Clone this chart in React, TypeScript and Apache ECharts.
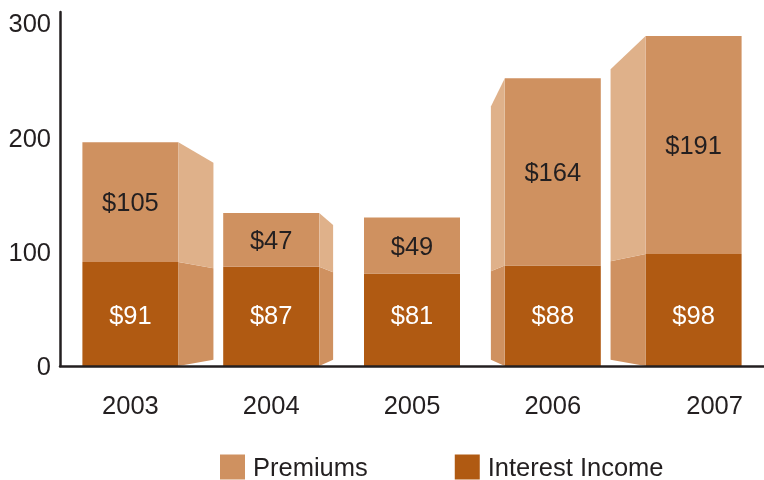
import React, { useEffect, useRef } from "react";
import * as echarts from "echarts";

const years = ["2003", "2004", "2005", "2006", "2007"];
const interestIncome = [91, 87, 81, 88, 98];
const premiums = [105, 47, 49, 164, 191];

const FONT = "'Liberation Sans', Arial, Helvetica, sans-serif";
const FS = 25.5;
const INK = "#231f20";
const C_INTEREST = "#b05a12";
const C_PREMIUM = "#cf9160";
const C_PREMIUM_SIDE = "#dfb18a";

export default function App() {
  const ref = useRef<HTMLDivElement>(null);
  useEffect(() => {
    const chart = echarts.init(ref.current!, null, { renderer: "svg" });
    const faceData = years.map((_, i) => [i, interestIncome[i], premiums[i]]);
    const option: any = {
      animation: false,
      grid: { left: 60, right: 0, top: 12, bottom: 114 },
      legend: {
        data: [
          { name: "Premiums", icon: "rect" },
          { name: "Interest Income", icon: "rect" },
        ],
        left: 220,
        top: 454,
        padding: 0,
        itemWidth: 25,
        itemHeight: 25,
        itemGap: 87,
        textStyle: {
          fontSize: FS,
          color: INK,
          fontFamily: FONT,
          lineHeight: 20,
          padding: [0, 0, 0, 3],
        },
      },
      xAxis: {
        type: "category",
        data: years,
        z: 10,
        axisLine: { show: true, lineStyle: { color: INK, width: 2.5 } },
        axisTick: { show: false },
        axisLabel: {
          interval: 0,
          hideOverlap: false,
          fontSize: FS,
          color: INK,
          fontFamily: FONT,
          margin: 26,
          formatter: (v: string, i: number) =>
            i === years.length - 1 ? `{shift|${v}}` : v,
          rich: {
            shift: {
              fontSize: FS,
              color: INK,
              fontFamily: FONT,
              padding: [0, 0, 0, 42],
            },
          },
        },
      },
      yAxis: {
        type: "value",
        min: 0,
        max: 310,
        interval: 100,
        z: 10,
        axisLine: { show: true, lineStyle: { color: INK, width: 2.5 } },
        axisTick: { show: false },
        splitLine: { show: false },
        axisLabel: {
          fontSize: FS,
          color: INK,
          fontFamily: FONT,
          margin: 9,
          formatter: (v: number) => (v % 100 === 0 ? String(v) : ""),
        },
      },
      series: [
        {
          name: "Interest Income",
          type: "bar",
          stack: "total",
          barWidth: 96,
          data: interestIncome,
          itemStyle: { color: C_INTEREST },
          label: {
            show: true,
            position: "insideBottom",
            distance: 38,
            formatter: "${c}",
            fontSize: FS,
            color: "#ffffff",
            fontFamily: FONT,
          },
        },
        {
          name: "Premiums",
          type: "bar",
          stack: "total",
          barWidth: 96,
          data: premiums,
          itemStyle: { color: C_PREMIUM },
          label: {
            show: true,
            position: "inside",
            formatter: "${c}",
            fontSize: FS,
            color: INK,
            fontFamily: FONT,
          },
        },
        {
          name: "faces",
          type: "custom",
          data: faceData,
          encode: { x: 0, y: [1, 2] },
          z: 1,
          renderItem: (params: any, api: any) => {
            const i = api.value(0);
            const a = api.value(1);
            const b = api.value(2);
            const p0 = api.coord([i, 0]);
            const p1 = api.coord([i, a]);
            const p2 = api.coord([i, a + b]);
            const cs = params.coordSys;
            const vx = cs.x + cs.width / 2;
            const vy = p0[1] - 0.15 * cs.height;
            const half = 48;
            const left = p0[0] - half;
            const right = p0[0] + half;
            let edge: number;
            let dir: number;
            if (right < vx) {
              edge = right;
              dir = 1;
            } else if (left > vx) {
              edge = left;
              dir = -1;
            } else {
              return { type: "group", children: [] };
            }
            const w = 0.15 * Math.abs(edge - vx);
            const bx = edge + dir * w;
            const back = (y: number) => y + 0.12 * (vy - y);
            return {
              type: "group",
              children: [
                {
                  type: "polygon",
                  shape: {
                    points: [
                      [edge, p0[1]],
                      [edge, p1[1]],
                      [bx, back(p1[1])],
                      [bx, back(p0[1])],
                    ],
                  },
                  style: { fill: C_PREMIUM },
                },
                {
                  type: "polygon",
                  shape: {
                    points: [
                      [edge, p1[1]],
                      [edge, p2[1]],
                      [bx, back(p2[1])],
                      [bx, back(p1[1])],
                    ],
                  },
                  style: { fill: C_PREMIUM_SIDE },
                },
                {
                  type: "line",
                  shape: { x1: edge, y1: p2[1], x2: edge, y2: p0[1] },
                  style: { stroke: "rgba(255,255,255,0.3)", lineWidth: 1 },
                },
              ],
            };
          },
        },
      ],
    };
    chart.setOption(option);
    return () => chart.dispose();
  }, []);
  return (
    <div
      ref={ref}
      style={{ position: "fixed", left: 0, top: 0, width: 764, height: 480 }}
    />
  );
}
